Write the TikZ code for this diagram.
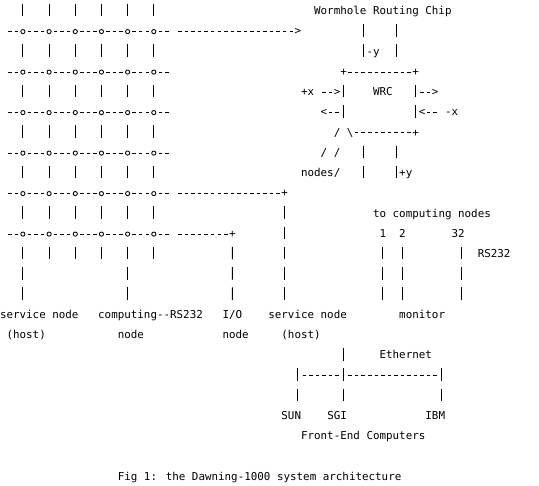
\documentclass[tikz,border=0pt]{standalone}
\usepackage{fontspec}
\newfontfamily\asciifont{DejaVu Sans Mono}

\begin{document}
\begin{tikzpicture}[x=6.545pt,y=-20.25pt,line width=0.85pt,
                    chr/.style={font=\asciifont\fontsize{10.87pt}{12pt}\selectfont,
                      inner sep=0pt,outer sep=0pt,text height=9.8pt,text depth=3pt,anchor=west},
                    knot/.style={circle,draw,fill=white,inner sep=0pt,outer sep=0pt,minimum size=4.2pt},
                    hdash/.style={dash pattern=on 3.5pt off 3.045pt},
                    vdash/.style={dash pattern=on 12.5pt off 7.75pt}]
  \useasboundingbox (0,0) rectangle (82.353,24);

  % the mesh of routing chips
  \foreach \i in {1,...,6}
    \foreach \j in {1,...,6}
      \node[knot] (o-\i-\j) at ({4*\j-0.5},{2*\i-0.44}) {};
  \foreach \i in {1,...,6} {
    \coordinate (w-\i) at (1,{2*\i-0.44});
    \coordinate (e-\i) at (26,{2*\i-0.44});
    \path (w-\i)   edge[hdash,shorten <=1.52pt] (o-\i-1)
          (o-\i-6) edge[hdash,shorten <=2.69pt] (e-\i);
    \foreach \j [count=\k from 2] in {1,...,5}
      \path (o-\i-\j) edge[hdash,shorten <=2.69pt] (o-\i-\k);
  }
  \foreach \j in {1,...,6} {
    \coordinate (t-\j) at ({4*\j-0.5},0.1914);
    \path (t-\j) edge[vdash,shorten >=6pt] (o-1-\j);
    \foreach \i [count=\k from 2] in {1,...,5}
      \path (o-\i-\j) edge[vdash,shorten <=10.7pt,shorten >=6pt] (o-\k-\j);
  }
  \foreach \j in {2,3,4,6} {
    \coordinate (b-\j) at ({4*\j-0.5},12.8086);
    \path (o-6-\j) edge[vdash,shorten <=10.7pt] (b-\j);
  }

  \node[chr] (svc1)   at (0,15.56)  {service node};
  \node[chr] (host1)  at (1,16.56)  {(host)};
  \node[chr] (comp)   at (15,15.56) {computing-{}-RS232};
  \node[chr] (cnode)  at (18,16.56) {node};
  \node[chr] (io)     at (34,15.56) {I/O};
  \node[chr] (ionode) at (34,16.56) {node};
  \node[chr] (svc2)   at (41,15.56) {service node};
  \node[chr] (host2)  at (43,16.56) {(host)};
  \path (o-6-1) edge[vdash,shorten <=10.7pt,shorten >=6pt] (o-6-1 |- svc1.north)
        (o-6-5) edge[vdash,shorten <=10.7pt,shorten >=6pt] (o-6-5 |- comp.north);

  \coordinate (a-1) at (27,1.56);
  \coordinate (a-5) at (27,9.56);
  \coordinate (a-6) at (27,11.56);
  \node[chr] (g-1) at (45,1.56)  {>};
  \node[chr] (p-5) at (43,9.56)  {+};
  \node[chr] (p-6) at (35,11.56) {+};
  \path (a-1) edge[hdash,shorten <=1.52pt] (g-1)
        (a-5) edge[hdash,shorten <=1.52pt] (p-5)
        (p-5) edge[vdash,shorten <=6.4pt,shorten >=6pt] (p-5 |- svc2.north)
        (a-6) edge[hdash,shorten <=1.52pt] (p-6)
        (p-6) edge[vdash,shorten <=6.4pt,shorten >=6pt] (io);

  % the chip
  \node[chr] (title) at (48,0.56) {Wormhole Routing Chip};
  \node[chr] (c-tl)  at (52,3.56) {+};
  \node[chr] (c-tr)  at (63,3.56) {+};
  \node[chr] (c-bl)  at (53,6.56) {\textbackslash};
  \node[chr] (c-br)  at (63,6.56) {+};
  \node[chr] (wrc)   at (57,4.56) {WRC};
  \path (c-tl) edge[hdash,shorten <=1.52pt] (c-tr)
        (c-bl) edge[hdash,shorten <=1.52pt] (c-br)
        (c-tr) edge[vdash,shorten <=6.4pt,shorten >=6pt] (c-br)
        (c-tl) edge[vdash,shorten <=6.4pt,shorten >=6pt] (c-tl |- c-bl.north);

  \coordinate (wi-1) at (55.5,1.1914);
  \coordinate (wi-2) at (60.5,1.1914);
  \coordinate (wo-1) at (55.5,8.8086);
  \coordinate (wo-2) at (60.5,8.8086);
  \node[chr] (my) at (56,2.56) {-y};
  \node[chr] (py) at (61,8.56) {+y};
  \path (wi-1) edge[vdash,shorten >=6pt] (wi-1 |- c-tl.north)
        (wi-2) edge[vdash,shorten >=6pt] (wi-2 |- c-tl.north)
        (wo-1 |- c-br) edge[vdash,shorten <=12.8pt] (wo-1)
        (wo-2 |- c-br) edge[vdash,shorten <=12.8pt] (wo-2);

  \node[chr] (px)  at (46,4.56) {+x};
  \node[chr] (g-2) at (51,4.56) {>};
  \node[chr] (l-1) at (49,5.56) {<};
  \node[chr] (g-3) at (66,4.56) {>};
  \node[chr] (l-2) at (64,5.56) {<};
  \node[chr] (mx)  at (68,5.56) {-x};
  \path (px) edge[hdash,shorten <=8.07pt] (g-2)
        (c-tl |- l-1) edge[hdash,shorten <=4.79pt] (l-1)
        (c-tr |- g-3) edge[hdash,shorten <=4.79pt] (g-3)
        (mx) edge[hdash,shorten <=8.07pt] (l-2);

  \node[chr] (s-1) at (51,6.56) {/};
  \node[chr] (s-2) at (49,7.56) {/};
  \node[chr] (s-3) at (51,7.56) {/};
  \node[chr] (nd)  at (46,8.56) {nodes/};

  % monitor
  \node[chr] (tc)   at (57,10.56) {to computing nodes};
  \node[chr] (n-1)  at (58,11.56) {1};
  \node[chr] (n-2)  at (61,11.56) {2};
  \node[chr] (n-32) at (69,11.56) {32};
  \node[chr] (rs)   at (73,12.56) {RS232};
  \node[chr] (mon)  at (61,15.56) {monitor};
  \coordinate (m-3) at ([xshift=3.27pt]n-32.south);
  \path (n-1) edge[vdash,shorten <=6.4pt,shorten >=6pt] (n-1 |- mon.north)
        (n-2) edge[vdash,shorten <=6.4pt,shorten >=6pt] (n-2 |- mon.north)
        (m-3) edge[vdash,shorten <=6.4pt,shorten >=6pt] (m-3 |- mon.north);

  % front-end computers
  \node[chr] (eth) at (58,17.56) {Ethernet};
  \node[chr] (sun) at (43,20.56) {SUN};
  \node[chr] (sgi) at (50,20.56) {SGI};
  \node[chr] (ibm) at (65,20.56) {IBM};
  \node[chr] (fe)  at (46,21.56) {Front-End Computers};
  \coordinate (bus-l) at (45.5,18.56);
  \coordinate (bus-m) at (52.5,18.56);
  \coordinate (bus-r) at (67.5,18.56);
  \path (bus-l) edge[hdash,shorten <=4.79pt,shorten >=2pt] (bus-m)
        (bus-m) edge[hdash,shorten <=4.79pt,shorten >=2pt] (bus-r)
        (bus-m |- svc2.south) edge[vdash,shorten <=26.65pt,shorten >=6pt] (bus-m |- sgi.north)
        ([yshift=7.45pt]bus-l) edge[vdash,shorten >=6pt] (bus-l |- sun.north)
        ([yshift=7.45pt]bus-r) edge[vdash,shorten >=6pt] (bus-r |- ibm.north);

  \node[chr] (cap) at (18,23.56) {Fig 1: the Dawning-1000 system architecture};
\end{tikzpicture}
\end{document}
